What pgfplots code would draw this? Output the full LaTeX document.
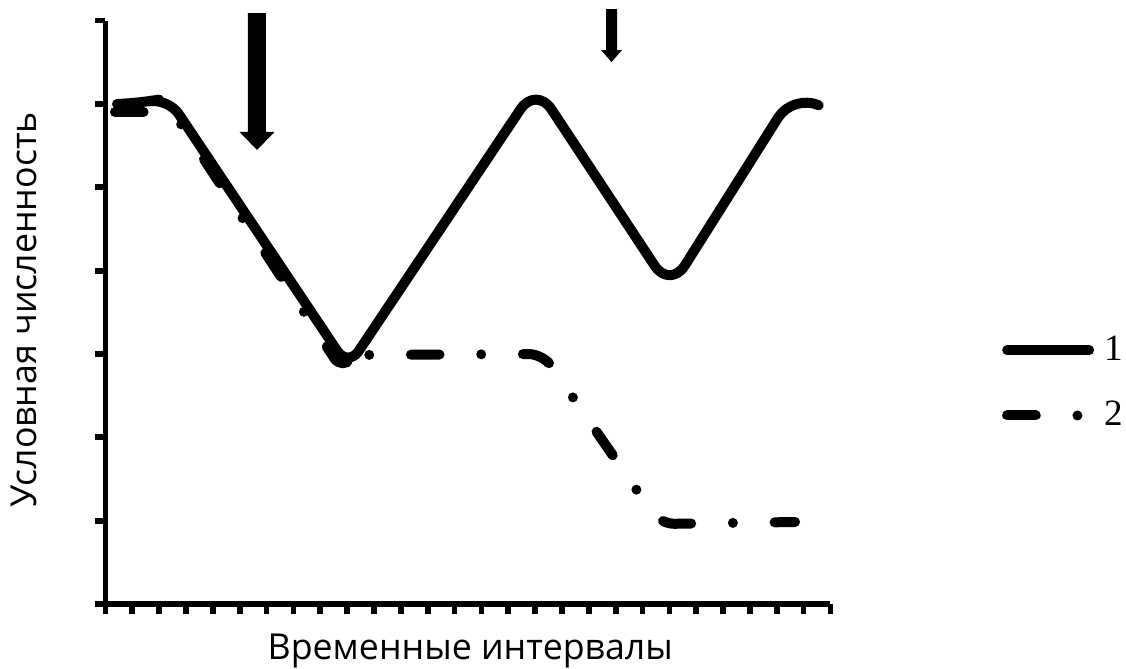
\documentclass[border=0pt]{standalone}
\usepackage{pgfplots}
\pgfplotsset{compat=1.18}
\usepackage{fontspec}
\setmainfont{Open Sans}
\newfontfamily\legfont{Liberation Serif}
\begin{document}
\begin{tikzpicture}
\begin{axis}[
  width=253.75pt, height=204.19pt, scale only axis,
  xmin=0, xmax=27, ymin=0, ymax=7,
  axis x line=bottom, axis y line=left,
  axis line style={-, line width=2pt},
  xtick={0,...,27}, ytick={0,...,7},
  xticklabels={}, yticklabels={},
  tick align=outside, major tick length=3.5pt,
  tick style={line width=2pt, black},
  clip=false,
  xlabel={Временные интервалы}, ylabel={Условная численность},
  label style={font=\fontsize{12.5}{15}\selectfont},
  xlabel style={at={(axis description cs:0.503,-0.0943)}, anchor=base},
  ylabel style={at={(axis description cs:-0.0958,0.504)}, anchor=base},
  legend style={at={(axis description cs:1.236,0.379)}, anchor=west, draw=none, fill=none,
    inner sep=0pt, row sep=8.7pt, column sep=1.5pt, font=\legfont\fontsize{13}{15}\selectfont, cells={anchor=west}},
  legend image code/.code={\draw[#1] (0pt,0pt) -- (28.7pt,0pt);},
]
\addplot[black, line width=3.5pt, line cap=round, line join=round, rounded corners=6.75pt] coordinates {
(0.428,6.000) (1.285,6.012) (2.328,6.072) (9.032,2.844) (12.458,4.494)
};
\addlegendentry{1}
\addplot[black, line width=3.5pt, line cap=round, line join=round, rounded corners=9.8pt, forget plot] coordinates {
(12.458,4.494) (16.034,6.216) (21.024,3.780) (25.605,6.120) (26.536,5.988)
};
\addplot[black, line width=3.5pt, line cap=round, line join=round, rounded corners=5pt,
  dash pattern=on 10pt off 14.6pt on 0pt off 14.6pt] coordinates {
(0.354,5.904) (2.514,5.904) (8.808,2.808) (9.255,2.988)
(16.294,3.000) (20.652,0.960) (25.680,0.984)
};
\addlegendentry{2}
\fill[black] (axis cs:5.304,7.091) -- (axis cs:5.974,7.091) -- (axis cs:5.974,5.664) -- (axis cs:6.294,5.664) -- (axis cs:5.642,5.448) -- (axis cs:4.991,5.664) -- (axis cs:5.304,5.664) -- cycle;
\fill[black] (axis cs:18.641,7.139) -- (axis cs:19.050,7.139) -- (axis cs:19.050,6.647) -- (axis cs:19.236,6.647) -- (axis cs:18.845,6.503) -- (axis cs:18.454,6.647) -- (axis cs:18.641,6.647) -- cycle;
\end{axis}
\pgfresetboundingbox
\path[use as bounding box] (-36.925pt,-22.4pt) rectangle (357.175pt,211.4pt);
\end{tikzpicture}
\end{document}
